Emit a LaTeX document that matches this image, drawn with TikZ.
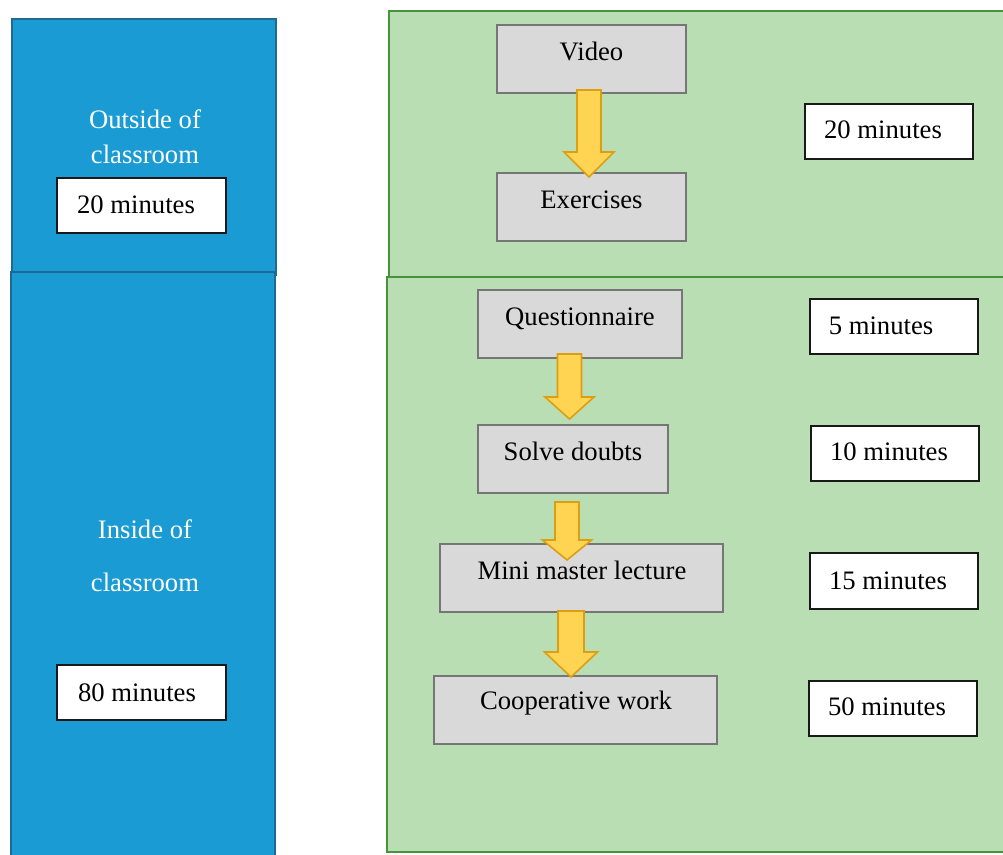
\documentclass[tikz,border=0pt]{standalone}
\usepackage{fontspec}
\setmainfont{Liberation Serif}
\usetikzlibrary{calc}
\definecolor{bluefill}{RGB}{26,155,212}
\definecolor{blueline}{RGB}{30,105,150}
\definecolor{greenfill}{RGB}{185,222,180}
\definecolor{greenline}{RGB}{70,148,58}
\definecolor{grayfill}{RGB}{217,217,217}
\definecolor{grayline}{RGB}{118,118,118}
\definecolor{arrfill}{RGB}{255,212,82}
\definecolor{arrline}{RGB}{222,158,18}

\newcommand\pxbox[6]{\node[#2, minimum width={(#5-#3)*0.75pt}, minimum height={(#6-#4)*0.75pt}] (#1) at ({(#3+#5)/2},{(#4+#6)/2}) {};}

% #1 src, #2 dst, #3 centre x (px), #4 shaft half width, #5 head half width,
% #6 top offset from src.south (px, down), #7 tip offset from dst.north (px, down), #8 head length
\newcommand\flowarrow[8]{%
  \path let \p1=(#1.south), \p2=(#2.north) in
    [arr] ({(#3-#4)*0.75pt},{\y1-(#6)*0.75pt})
       -- ({(#3+#4)*0.75pt},{\y1-(#6)*0.75pt})
       -- ({(#3+#4)*0.75pt},{\y2-(#7)*0.75pt+(#8)*0.75pt})
       -- ({(#3+#5)*0.75pt},{\y2-(#7)*0.75pt+(#8)*0.75pt})
       -- ({#3*0.75pt},{\y2-(#7)*0.75pt})
       -- ({(#3-#5)*0.75pt},{\y2-(#7)*0.75pt+(#8)*0.75pt})
       -- ({(#3-#4)*0.75pt},{\y2-(#7)*0.75pt+(#8)*0.75pt})
       -- cycle;}

\tikzset{
  panelB/.style={draw=blueline, fill=bluefill, line width=1.2pt, inner sep=0pt, outer sep=0pt},
  panelG/.style={draw=greenline, fill=greenfill, line width=1.4pt, inner sep=0pt, outer sep=0pt},
  gbox/.style={draw=grayline, fill=grayfill, line width=1.9pt, inner sep=0pt, outer sep=0pt},
  tbox/.style={draw=black!90, fill=white, line width=1.7pt, inner sep=0pt, outer sep=0pt},
  txt/.style={font=\fontsize{20}{24}\selectfont, inner sep=0pt, anchor=base, text=black},
  wtxt/.style={txt, text=white},
  arr/.style={draw=arrline, fill=arrfill, line width=1.2pt, line join=miter},
}

\begin{document}
\begin{tikzpicture}[x=0.75pt, y=-0.75pt]
\useasboundingbox (0,0) rectangle (1003,854);
\clip (0,0) rectangle (1003,854);
\fill[white] (0,0) rectangle (1003,854);

% panels
\pxbox{outb}{panelB}{12}{19}{276}{275}
\pxbox{inb}{panelB}{11}{272}{275}{880}
\pxbox{outg}{panelG}{389}{11}{1030}{277}
\pxbox{ing}{panelG}{387}{277}{1030}{852}

% left labels
\node[wtxt] (outl1) at (145,128) {Outside of};
\node[wtxt] (outl2) at (145,163) {classroom};
\node[wtxt] (inl1) at (145,538) {Inside of};
\node[wtxt] (inl2) at (145,591) {classroom};

% left time boxes
\pxbox{l20}{tbox}{57}{178}{226}{233}
\node[txt] (l20t) at (136,213) {20 minutes};
\pxbox{l80}{tbox}{57}{665}{226}{720}
\node[txt] (l80t) at (137,701) {80 minutes};

% activity boxes
\pxbox{video}{gbox}{497}{25}{686}{93}
\pxbox{exer}{gbox}{497}{173}{686}{241}
\pxbox{quest}{gbox}{478}{290}{682}{358}
\pxbox{solve}{gbox}{478}{425}{668}{493}
\pxbox{mini}{gbox}{440}{544}{723}{612}
\pxbox{coop}{gbox}{434}{676}{717}{744}

\node[txt] (videot) at (591.5,60) {Video};
\node[txt] (exert) at (591.5,208) {Exercises};
\node[txt] (questt) at (580,325) {Questionnaire};
\node[txt] (solvet) at (573,460) {Solve doubts};
\node[txt] (minit) at (582,579) {Mini master lecture};
\node[txt] (coopt) at (576,709) {Cooperative work};

% right time boxes
\pxbox{r20}{tbox}{805}{104}{973}{159}
\node[txt] (r20t) at (883,138) {20 minutes};
\pxbox{r5}{tbox}{810}{299}{978}{354}
\node[txt] (r5t) at (881,334) {5 minutes};
\pxbox{r10}{tbox}{811}{426}{979}{481}
\node[txt] (r10t) at (889,460) {10 minutes};
\pxbox{r15}{tbox}{810}{553}{978}{609}
\node[txt] (r15t) at (888,589) {15 minutes};
\pxbox{r50}{tbox}{809}{681}{977}{736}
\node[txt] (r50t) at (887,715) {50 minutes};

% block arrows
\flowarrow{video}{exer}{589}{12}{25}{-3}{4}{25}
\flowarrow{quest}{solve}{569.5}{12}{24.5}{-4}{-6}{22}
\flowarrow{solve}{mini}{567}{12}{24.5}{9}{16}{20}
\flowarrow{mini}{coop}{571}{13}{26.5}{-1}{1}{25}
\end{tikzpicture}
\end{document}
